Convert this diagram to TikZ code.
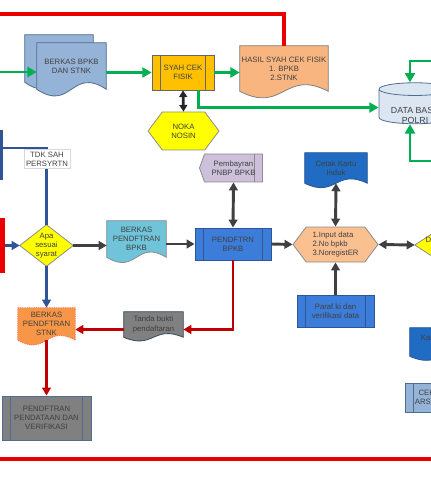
\documentclass[tikz,border=0pt]{standalone}
\usepackage{fontspec}
\setmainfont{Liberation Sans}
\usetikzlibrary{arrows.meta,calc,shapes.geometric,shapes.symbols,backgrounds}

\definecolor{cgreen}{RGB}{0,176,80}
\definecolor{cred}{RGB}{235,0,0}
\definecolor{cdred}{RGB}{192,0,0}
\definecolor{cblue}{RGB}{47,85,151}
\definecolor{cgrey}{RGB}{64,64,64}
\definecolor{fberkas}{RGB}{149,179,215}
\definecolor{lberkas}{RGB}{79,109,143}
\definecolor{fsyah}{RGB}{255,192,0}
\definecolor{fhasil}{RGB}{249,181,128}
\definecolor{fyellow}{RGB}{255,255,0}
\definecolor{fteal}{RGB}{112,196,218}
\definecolor{fpend}{RGB}{60,125,217}
\definecolor{fbayar}{RGB}{204,192,218}
\definecolor{fcetak}{RGB}{31,108,194}
\definecolor{fpeach}{RGB}{250,192,144}
\definecolor{fgray}{RGB}{128,128,128}
\definecolor{forange}{RGB}{247,150,70}
\definecolor{fdb}{RGB}{220,230,242}

% document shape: body is the node, the wave hangs below it
\newcommand{\docshape}[2]{%
  \begin{pgfonlayer}{background}
  \draw[#2] (#1.north west) -- (#1.north east) -- (#1.south east)
    .. controls (#1.center) and ($(#1.south)!-1!(#1.center)$) .. (#1.south west) -- cycle;
  \end{pgfonlayer}}
% decision shape drawn from the node anchors
\newcommand{\diashape}[2]{%
  \begin{pgfonlayer}{background}
  \draw[#2] (#1.north) -- (#1.east) -- (#1.south) -- (#1.west) -- cycle;
  \end{pgfonlayer}}

\tikzset{
  every node/.style={font=\fontsize{5.8}{6.8}\selectfont,text=black!75,align=center,inner sep=1pt},
  docnode/.style={rectangle,inner sep=1pt},
  procbox/.style={rectangle,draw=#1,line width=0.6pt,
    path picture={\draw[#1,line width=0.6pt]
      ([xshift=6.5pt]path picture bounding box.north west) -- ([xshift=6.5pt]path picture bounding box.south west)
      ([xshift=-6.5pt]path picture bounding box.north east) -- ([xshift=-6.5pt]path picture bounding box.south east);}},
  hexa/.style={signal,signal to=east and west,signal pointer angle=106,line width=0.6pt},
  bayarbox/.style={signal,signal to=west,signal pointer angle=140,line width=0.6pt,fill=fbayar,draw=black!45,
    path picture={\draw[black!45,line width=0.6pt]
      ([xshift=-6pt]path picture bounding box.north east) -- ([xshift=-6pt]path picture bounding box.south east);}},
  greenline/.style={draw=cgreen,line width=1.9pt,-{Triangle[width=7.5pt,length=7pt]}},
  redline/.style={draw=cred,line width=2.4pt},
  redarrow/.style={draw=cdred,line width=2pt,-{Triangle[width=6.5pt,length=6pt]}},
  blueline/.style={draw=cblue,line width=1.9pt},
  bluearrow/.style={draw=cblue,line width=1.9pt,-{Triangle[width=6.5pt,length=6pt]}},
  grayarrow/.style={draw=cgrey,line width=2.2pt,-{Triangle[width=6.5pt,length=6pt]}},
  graydouble/.style={draw=cgrey,line width=2.2pt,{Triangle[width=6.5pt,length=6pt]}-{Triangle[width=6.5pt,length=6pt]}},
  blackdouble/.style={draw=black!85,line width=2pt,{Triangle[width=6pt,length=5pt]}-{Triangle[width=6pt,length=5pt]}}
}

\begin{document}
\begin{tikzpicture}[x=0.75pt,y=0.75pt,yscale=-1,xscale=1]
\useasboundingbox (0,0) rectangle (431,488);
\clip (0,0) rectangle (431,488);

%Shape: Document [berkas bpkb]
\node[docnode,minimum width=51pt,minimum height=35.25pt] (berkasback) at (59,58.5) {};
\docshape{berkasback}{fill=fberkas,draw=lberkas,line width=0.6pt}
\node[docnode,minimum width=51.75pt,minimum height=34.5pt] (berkas) at (71.5,66) {BERKAS BPKB\\DAN STNK};
\docshape{berkas}{fill=fberkas,draw=lberkas,line width=0.6pt}
%Shape: Predefined Process [syah]
\node[procbox=black!60,fill=fsyah,minimum width=46.5pt,minimum height=26.25pt] (syah) at (183,72.5) {SYAH CEK\\FISIK};
%Shape: Document [hasil]
\node[docnode,minimum width=66pt,minimum height=33.75pt] (hasil) at (284,68.5) {HASIL SYAH CEK FISIK\\1. BPKB\\2.STNK};
\docshape{hasil}{fill=fhasil,draw=black!50,line width=0.6pt}
%Shape: Cylinder [data base]
\node[cylinder,shape border rotate=90,aspect=0.25,draw=lberkas,fill=fdb,line width=0.6pt,minimum width=54pt,minimum height=30.75pt,font=\fontsize{6.6}{7.6}\selectfont] (db) at (415,107.5)
  {\raisebox{-8.5pt}[0pt][0pt]{\begin{tabular}{@{}c@{}}DATA BASE\\POLRI\end{tabular}}};
%Shape: Hexagon [noka]
\node[hexa,fill=fyellow,draw=black!45,minimum width=53.25pt,minimum height=28.5pt] (noka) at (183.5,131) {NOKA\\NOSIN};

%Shape: Rectangle [red bar]
\node[fill=cred,minimum width=20pt,minimum height=41.25pt,anchor=east] (redbar) at (5,245.5) {};
%Shape: Diamond [apa]
\node[docnode,minimum width=39.75pt,minimum height=30.75pt] (apa) at (46.5,245.5) {Apa\\sesuai\\syarat};
\diashape{apa}{fill=fyellow,draw=black!45,line width=0.6pt}
%Shape: Document [berkas pendftran bpkb]
\node[docnode,minimum width=44.25pt,minimum height=27pt] (bpkbdoc) at (136.5,239) {BERKAS\\PENDFTRAN\\BPKB};
\docshape{bpkbdoc}{fill=fteal,draw=black!45,line width=0.6pt}
%Shape: Predefined Process [pendftrn bpkb]
\node[procbox=cblue,fill=fpend,minimum width=57pt,minimum height=24pt] (pendbpkb) at (233,244) {PENDFTRN\\BPKB};
%Shape: Display [pembayran]
\node[bayarbox,minimum width=47.25pt,minimum height=21pt] (bayar) at (233.5,168) {Pembayran\\PNBP BPKB};
%Shape: Hexagon [input data]
\node[hexa,fill=fpeach,draw=black!45,align=left,minimum width=63.75pt,minimum height=26.25pt] (inputdata) at (335.5,244.5) {1.Input data\\2.No bpkb\\3.NoregistER};
%Shape: Document [cetak kartu]
\node[docnode,minimum width=46.5pt,minimum height=22.5pt] (cetak) at (336,168) {Cetak Kartu\\Induk};
\docshape{cetak}{fill=fcetak,draw=cblue,line width=0.6pt}
%Shape: Predefined Process [paraf]
\node[procbox=cblue,fill=fpend,minimum width=57.75pt,minimum height=24pt] (paraf) at (335.5,311) {Paraf ki dan\\verifikasi data};
%Shape: Diamond [right]
\node[docnode,minimum width=46.5pt,minimum height=30pt] (rightdia) at (446,245) {Data sesuai\\syarat};
\diashape{rightdia}{fill=fyellow,draw=black!45,line width=0.6pt}

%Shape: Document [tanda bukti]
\node[docnode,minimum width=44.25pt,minimum height=18.75pt] (tanda) at (153.5,324.5) {Tanda bukti\\pendaftaran};
\docshape{tanda}{fill=fgray,draw=lberkas!70!black,line width=0.6pt}
%Shape: Document [berkas pendftran stnk]
\node[docnode,minimum width=42.75pt,minimum height=24pt] (stnk) at (46.5,324) {BERKAS\\PENDFTRAN\\STNK};
\docshape{stnk}{fill=forange,draw=red!60,densely dotted,line width=0.7pt}
%Shape: Predefined Process [pendataan]
\node[procbox=lberkas,fill=fgray,minimum width=66.75pt,minimum height=33pt] (pendata) at (46.5,418) {PENDFTRAN\\PENDATAAN DAN\\VERIFIKASI};
%Shape: Document [kartu]
\node[docnode,minimum width=47.25pt,minimum height=21pt] (ka) at (441.5,342) {Kartu BPKB\\Induk};
\docshape{ka}{fill=fcetak,draw=cblue,line width=0.6pt}
%Shape: Predefined Process [arsip]
\node[procbox=lberkas,fill=fberkas,minimum width=32.25pt,minimum height=21.75pt] (arsip) at (426.5,397.5) {CEK\\ARSIP};

%Straight Lines [green]
\coordinate (gin) at (0,72);
\draw[greenline] (gin) -- (gin -| berkas.west);
\draw[greenline] (berkas.east |- syah.west) -- (syah.west);
\draw[greenline] (syah.east) -- (syah.east -| hasil.west);
\coordinate (gsyah) at ($(syah.south east)+(-16,0)$);
\draw[greenline] (gsyah) |- (db.west);
\coordinate (dbtop) at (431,61);
\draw[greenline] (dbtop) -| ($(db.north)+(-5,0)$);
\coordinate (dbbot) at (431,161);
\draw[greenline] (dbbot) -| ($(db.south)+(-5,0)$);

%Straight Lines [red]
\coordinate (rtop) at (0,14);
\draw[redline] (rtop) -| (hasil.north);
\coordinate (tandain) at ($(tanda.east)+(0,5)$);
\coordinate (tandaout) at ($(tanda.west)+(0,5)$);
\draw[redarrow] (pendbpkb.south) |- (tandain);
\draw[redarrow] (tandaout) -- (tandaout -| stnk.east);
\draw[redarrow] (stnk.south) -- (pendata.north);
\coordinate (rb1) at (0,459);
\coordinate (rb2) at (431,459);
\draw[redline] (rb1) -- (rb2);

%Straight Lines [blue]
\draw[bluearrow] (redbar.east) -- (apa.west);
\draw[bluearrow] (apa.south) -- (stnk.north);
\coordinate (tdkend) at (0,148);
\draw[blueline] (apa.north) |- (tdkend);
\coordinate (bl1) at (1.5,130);
\coordinate (bl2) at (1.5,180);
\draw[blueline] (bl1) -- (bl2);
% Text Node
\node[draw=black!15,fill=white,inner sep=1.5pt] (tdk) at (47,159) {TDK SAH\\PERSYRTN};

%Straight Lines [gray]
\draw[grayarrow] (apa.east) -- (apa.east -| bpkbdoc.west);
\draw[grayarrow] (bpkbdoc.east |- pendbpkb.west) -- (pendbpkb.west);
\draw[grayarrow] (pendbpkb.east) -- (inputdata.west);
\draw[graydouble] (bayar.south) -- (pendbpkb.north);
\draw[graydouble] (cetak.south) -- (inputdata.north);
\draw[grayarrow] (paraf.north) -- (inputdata.south);
\draw[graydouble] (inputdata.east) -- (rightdia.west);
\draw[blackdouble] (syah.south) -- (noka.north);

\end{tikzpicture}
\end{document}
